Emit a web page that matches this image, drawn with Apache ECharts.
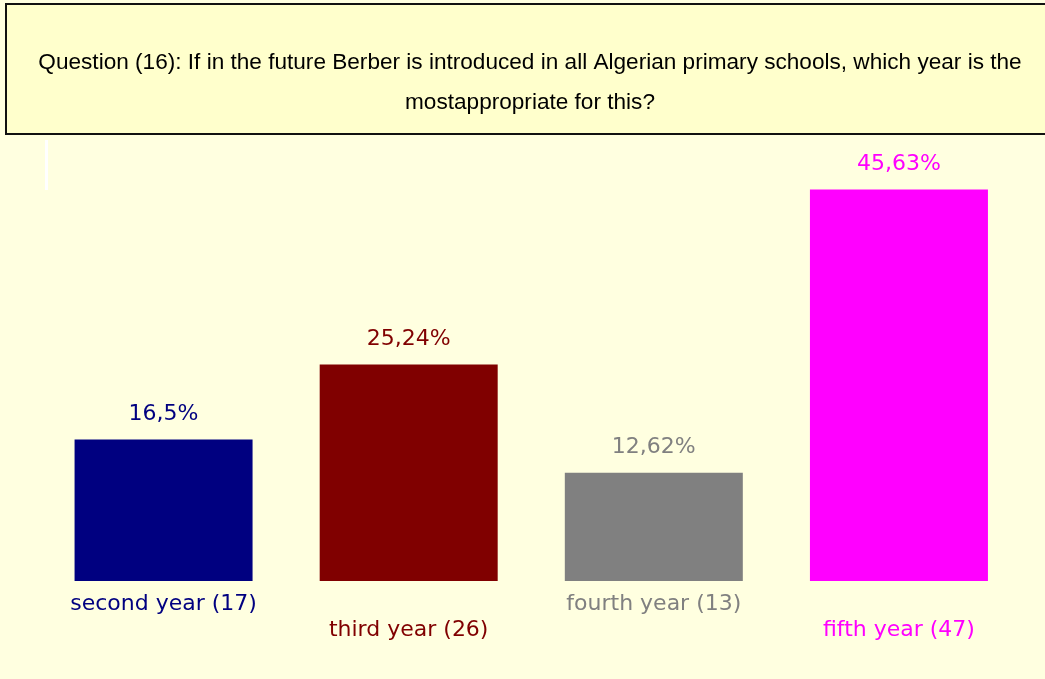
<!DOCTYPE html>
<html>
<head>
<meta charset="utf-8">
<script src="https://cdn.jsdelivr.net/npm/echarts@6/dist/echarts.min.js"></script>
<style>
	html, body { margin: 0; padding: 0; background: #FFFFE0; }
	#chartBar { width: 1045px; height: 679px; }
</style>
</head>
<body>
<div id="chartBar"></div>
<script>
	// data
	const yearNames = ['second year', 'third year', 'fourth year', 'fifth year'];
	const yearCounts = [17, 26, 13, 47];
	const percentValues = [16.5, 25.24, 12.62, 45.63];
	const barColors = ['#000080', '#800000', '#808080', '#FF00FF'];
	const questionText = 'Question (16): If in the future Berber is introduced in all Algerian primary schools, which year is the\nmostappropriate for this?';

	const categories = yearNames.map((n, i) => n + ' (' + yearCounts[i] + ')');

	// rich styles for the x labels: colour per bar, odd ones pushed down a row
	const labelRich = {};
	barColors.forEach((c, i) => {
		labelRich['c' + i] = {
			color: c,
			fontFamily: 'DejaVu Sans',
			fontSize: 22,
			padding: [i % 2 ? 26 : 0, 0, 0, 0]
		};
	});

	const chartBar = echarts.init(document.getElementById('chartBar'));
	chartBar.setOption({
		backgroundColor: '#FFFFE0',
		animation: false,
		title: {
			text: questionText,
			left: 530,
			top: 43,
			padding: 0,
			textAlign: 'center',
			textStyle: {
				color: '#000',
				fontFamily: 'Liberation Sans',
				fontWeight: 'normal',
				fontSize: 22.6,
				lineHeight: 40
			},
			z: 10
		},
		graphic: [
			{   // title box
				type: 'rect',
				shape: { x: 6, y: 4, width: 1060, height: 130 },
				style: { fill: '#FFFFCC', stroke: '#111', lineWidth: 2 },
				z: 0
			},
			{
				type: 'rect',
				shape: { x: 45, y: 140, width: 3, height: 50 },
				style: { fill: '#fff' },
				z: 0
			}
		],
		grid: {
			left: 41,
			right: 23.5,
			top: 152,
			bottom: 98
		},
		xAxis: {
			type: 'category',
			data: categories,
			axisLine: { show: false },
			axisTick: { show: false },
			axisLabel: {
				margin: 12,
				interval: 0,
				formatter: (v, i) => '{c' + i + '|' + v + '}',
				rich: labelRich
			}
		},
		yAxis: {
			type: 'value',
			min: 0,
			max: 50,
			show: false,
			splitLine: { show: false }
		},
		series: [
			{
				type: 'bar',
				barWidth: 178,
				data: percentValues.map((v, i) => ({
					value: v,
					itemStyle: { color: barColors[i] },
					label: { color: barColors[i] }
				})),
				label: {
					show: true,
					position: 'top',
					distance: 14,
					fontFamily: 'DejaVu Sans',
					fontSize: 22,
					formatter: p => String(p.value).replace('.', ',') + '%'
				}
			}
		]
	});
</script>
</body>
</html>
